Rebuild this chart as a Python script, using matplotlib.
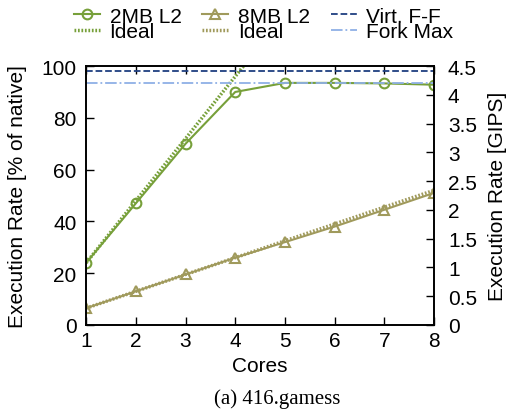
import numpy as np
import matplotlib
matplotlib.use('Agg')
import matplotlib.pyplot as plt

plt.rcParams['font.family'] = ['Liberation Sans', 'DejaVu Sans']

cores = [1, 2, 3, 4, 5, 6, 7, 8]
l2_2mb = [24, 47, 70, 90, 93.5, 93.5, 93.3, 92.8]
l2_8mb = [6.5, 13, 19.5, 26, 32, 38, 44.5, 51]
ideal_2mb = [24, 48, 72, 96, 120, 144, 168, 192]
ideal_8mb = [6.5, 13, 19.5, 26, 32.5, 39, 45.5, 52]
virt_ff = 98.2
fork_max = 93.3

green = '#77a03a'
olive = '#a09a5c'
dots = (0, (0.5, 0.5))

fig = plt.figure(figsize=(5.07, 4.14), dpi=100)
ax = fig.add_axes([0.170, 0.2126, 0.686, 0.6254])

l1, = ax.plot(cores, l2_2mb, '-', color=green, marker='o', mfc='none', ms=7, mew=1.5, lw=1.5, label='2MB L2')
i1, = ax.plot(cores, ideal_2mb, linestyle=dots, color=green, lw=2.5, label='Ideal')
l2, = ax.plot(cores, l2_8mb, '-', color=olive, marker='^', mfc='none', ms=7, mew=1.5, lw=1.5, label='8MB L2')
i2, = ax.plot(cores, ideal_8mb, linestyle=dots, color=olive, lw=2.5, label='Ideal')
v, = ax.plot([1, 8], [virt_ff, virt_ff], '--', color='#1f3f80', lw=1.3, label='Virt. F-F')
f, = ax.plot([1, 8], [fork_max, fork_max], '-.', color='#8fb0e6', lw=1.3, label='Fork Max')

ax.set_xlim(1, 8)
ax.set_ylim(0, 100)
ax.set_xticks(cores)
ax.set_yticks([0, 20, 40, 60, 80, 100])
ax.tick_params(direction='in', top=True, labelsize=15, length=6, width=1)
ax.tick_params(axis='x', pad=4)
ax.tick_params(axis='y', pad=7)
ax.set_xlabel('Cores', fontsize=15, labelpad=5)
ax.set_ylabel('Execution Rate [% of native]', fontsize=15, labelpad=10)

ax2 = ax.twinx()
ax2.set_ylim(0, 4.5)
ax2.set_yticks([0, 0.5, 1, 1.5, 2, 2.5, 3, 3.5, 4, 4.5])
ax2.set_yticklabels(['0', '0.5', '1', '1.5', '2', '2.5', '3', '3.5', '4', '4.5'])
ax2.tick_params(direction='in', labelsize=15, length=6, width=1, pad=10)
ax2.set_ylabel('Execution Rate [GIPS]', fontsize=15, labelpad=8)

for a in (ax, ax2):
    for s in a.spines.values():
        s.set_linewidth(1.2)

fig.legend([l1, i1, l2, i2, v, f], ['2MB L2', 'Ideal', '8MB L2', 'Ideal', 'Virt. F-F', 'Fork Max'],
           ncol=3, loc='upper center', bbox_to_anchor=(0.52, 1.027), frameon=False,
           fontsize=15, labelspacing=-0.15, columnspacing=1.0, handlelength=1.25,
           handletextpad=0.45)

fig.text(0.546, 0.025, '(a) 416.gamess', ha='center', fontsize=15, family='Liberation Serif')

fig.savefig('out.png', dpi=100)
